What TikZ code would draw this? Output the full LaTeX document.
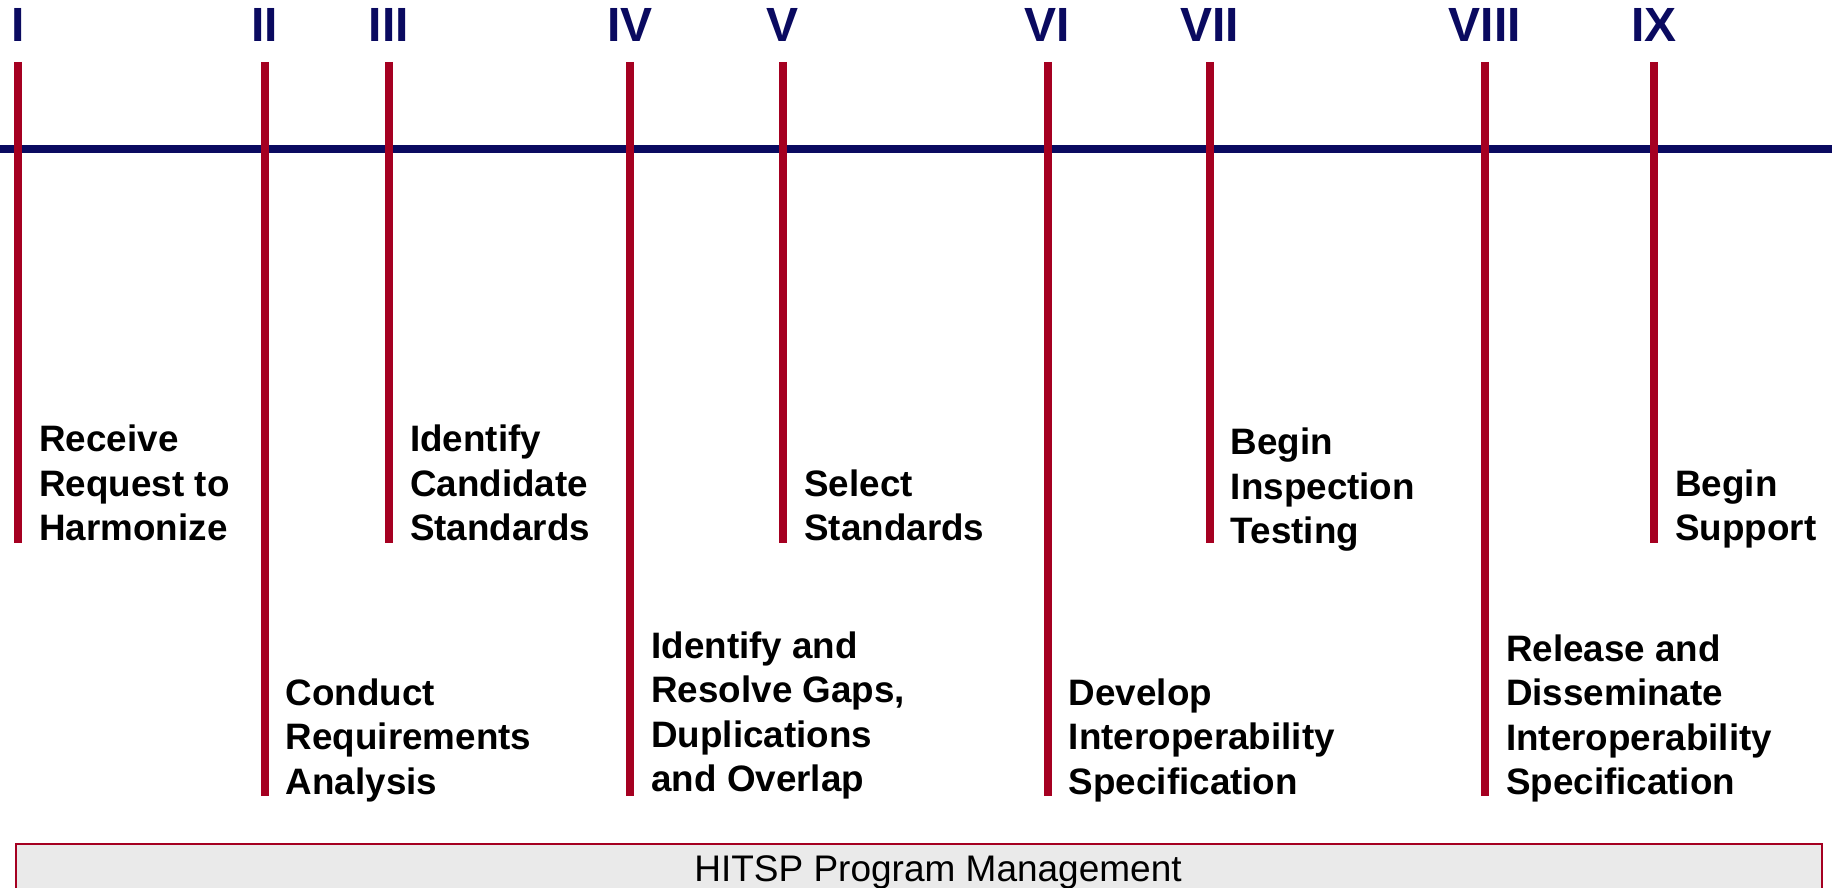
\documentclass[tikz,border=0pt]{standalone}
\usepackage{fontspec}
\setmainfont{Liberation Sans}
\definecolor{barred}{HTML}{A50021}
\definecolor{axisblue}{HTML}{0A0A60}
\definecolor{pmgray}{HTML}{EAEAEA}
\tikzset{
  axis/.style={draw=axisblue, line width=4pt},
  phase/.style={draw=barred, line width=4pt},
  numeral/.style={font=\fontsize{24}{24}\selectfont\bfseries, text=axisblue, anchor=base, inner sep=0pt},
  stage/.style={font=\fontsize{18.4}{22.2}\selectfont\bfseries, align=left, anchor=north west, inner sep=0pt},
  pmbox/.style={draw=barred, line width=1pt, fill=pmgray},
}
\begin{document}
\begin{tikzpicture}[x=0.5pt,y=-0.5pt]
\useasboundingbox (0,0) rectangle (1832,888);
\clip (0,0) rectangle (1832,888);

% time axis
\coordinate (axisL) at (0,149);
\coordinate (axisR) at (1832,149);
\draw[axis] (axisL) -- (axisR);

% phase bars and numbers
\foreach \p/\x/\y in {I/18/543, II/264.5/796, III/388.7/543, IV/630/796, V/783/543,
                      VI/1047.5/796, VII/1209.5/543, VIII/1484.7/796, IX/1654/543}{
  \coordinate (top\p) at (\x,62);
  \coordinate (bot\p) at (\x,\y);
  \draw[phase] (top\p) -- (bot\p);
  \node[numeral] (num\p) at (\x,42) {\p};
}

% phase texts (top left of first line)
\node[stage] (lblI) at (39,424.9) {Receive\\Request to\\Harmonize};
\node[stage] (lblII) at (285.5,678.2) {Conduct\\Requirements\\Analysis};
\node[stage] (lblIII) at (409.7,424.9) {Identify\\Candidate\\Standards};
\node[stage] (lblIV) at (651,631.2) {Identify and\\Resolve Gaps,\\Duplications\\and Overlap};
\node[stage] (lblV) at (804,469.2) {Select\\Standards};
\node[stage] (lblVI) at (1068.5,678.2) {Develop\\Interoperability\\Specification};
\node[stage] (lblVII) at (1230.5,427.7) {Begin\\Inspection\\Testing};
\node[stage] (lblVIII) at (1505.7,634.2) {Release and\\Disseminate\\Interoperability\\Specification};
\node[stage] (lblIX) at (1675,469.2) {Begin\\Support};

% program management
\draw[pmbox] (16,843.5) rectangle (1822,900);
\node[font=\fontsize{18.5}{18.5}\selectfont, anchor=base, inner sep=0pt] (pm) at (938,881.7) {HITSP Program Management};
\end{tikzpicture}
\end{document}
